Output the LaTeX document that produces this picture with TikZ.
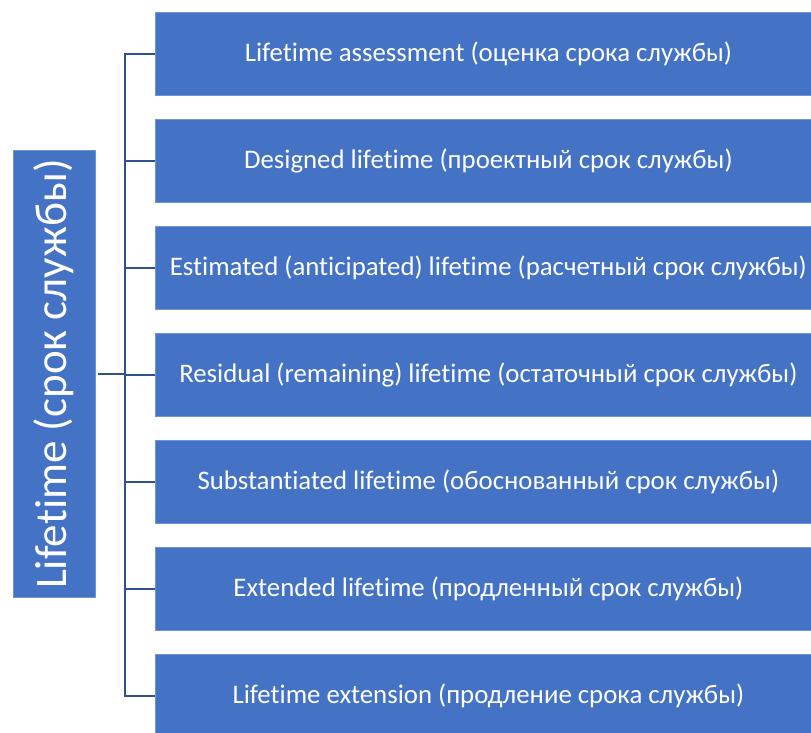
\documentclass[tikz,border=0pt]{standalone}
\usepackage{fontspec}
\setmainfont[Ligatures=NoCommon]{Carlito}
\definecolor{boxblue}{HTML}{4472C4}
\definecolor{edgeblue}{HTML}{7394D2}
\definecolor{linkblue}{HTML}{2F528F}
\begin{document}
\begin{tikzpicture}[x=1pt,y=-1pt,
  item/.style={fill=boxblue,draw=edgeblue,line width=0.8pt,minimum width=657pt,minimum height=83pt,
    inner sep=0pt,anchor=north west,text=white,font=\fontsize{26.8}{31}\selectfont,
    execute at begin node=\hspace*{10pt}},
  root/.style={fill=boxblue,draw=edgeblue,line width=0.8pt,minimum width=447pt,minimum height=82pt,
    inner sep=0pt,text=white,rotate=90,font=\fontsize{45}{52}\selectfont},
  link/.style={draw=linkblue,line width=2pt}]
\useasboundingbox (0,0) rectangle (811,733);
\clip (0,0) rectangle (811,733);
\node[root] (r) at (54,374) {Lifetime (срок службы)};
\node[item] (b1) at (154.5,12) {Lifetime assessment (оценка срока службы)};
\node[item] (b2) at (154.5,119) {Designed lifetime (проектный срок службы)};
\node[item] (b3) at (154.5,226) {Estimated (anticipated) lifetime (расчетный срок службы)};
\node[item] (b4) at (154.5,333) {Residual (remaining) lifetime (остаточный срок службы)};
\node[item] (b5) at (154.5,440) {Substantiated lifetime (обоснованный срок службы)};
\node[item] (b6) at (154.5,547) {Extended lifetime (продленный срок службы)};
\node[item] (b7) at (154.5,654) {Lifetime extension (продление срока службы)};
% bracket joining the root to every item
\coordinate (spine) at (125,374);
\draw[link] ([xshift=3pt]r.south) -- (spine);
\draw[link] (spine |- b1.west) -- (spine |- b7.west);
\foreach \b in {b1,b2,b3,b4,b5,b6,b7}{
  \draw[link] ([xshift=-1pt]spine |- \b.west) -- (\b.west);
}
\end{tikzpicture}
\end{document}
